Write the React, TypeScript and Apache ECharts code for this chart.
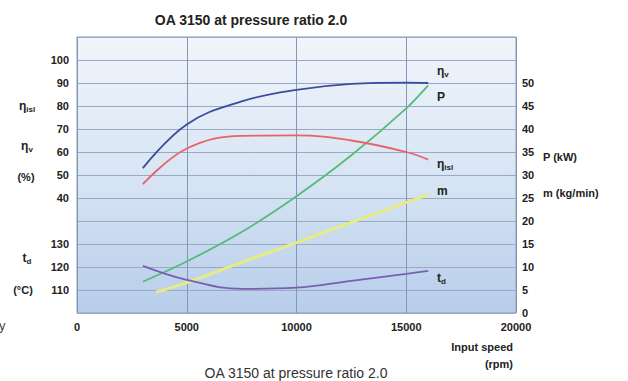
import React, { useEffect, useRef } from "react";
import * as echarts from "echarts";

const TITLE = "OA 3150 at pressure ratio 2.0";
const speed = [3000, 5000, 7500, 10000, 12500, 15000, 16000];
const etaV = [53, 72, 82, 87, 89.6, 90.2, 90];
const etaIsl = [46, 61.5, 67, 67.2, 65, 60, 56.7];
const power = [6.8, 11.2, 17.6, 25.4, 34.3, 44.5, 49.5];
const massSpeed = [3600, 5000, 7500, 10000, 12500, 15000, 16000];
const massFlow = [4.5, 6.6, 11, 15.3, 19.7, 24, 25.7];
const tempD = [120.5, 114.4, 110.5, 111, 114, 117, 118.3];
const etaTicks = [40, 50, 60, 70, 80, 90, 100];
const tempTicks = [110, 120, 130];
const rightTicks = [0, 5, 10, 15, 20, 25, 30, 35, 40, 45, 50];

const FONT = "Liberation Sans, Arial, sans-serif";

const pairs = (xs: number[], ys: number[]) => xs.map((x, i) => [x, ys[i]]);

const tickLabel = {
  fontFamily: FONT,
  fontWeight: "bold" as const,
  fontSize: 11,
  color: "#222",
};

const sub = (main: string, s: string) => `{e|${main}}{s|${s}}`;
const richSub = {
  e: { fontFamily: FONT, fontSize: 12, fontWeight: "bold", fill: "#222", lineHeight: 14, verticalAlign: "middle" },
  s: { fontFamily: FONT, fontSize: 8, fontWeight: "bold", fill: "#222", lineHeight: 8, verticalAlign: "bottom" },
};

function txt(text: string, x: number, y: number, align: string, extra: any = {}) {
  return {
    type: "text",
    x,
    y,
    style: {
      text,
      fontFamily: FONT,
      fontSize: 11,
      fontWeight: "bold",
      fill: "#222",
      align,
      verticalAlign: "middle",
      rich: richSub,
      ...extra,
    },
  };
}

export default function App() {
  const ref = useRef<HTMLDivElement>(null);
  useEffect(() => {
    if (!ref.current) return;
    const chart = echarts.init(ref.current, null, { renderer: "svg" });
    chart.setOption({
      animation: false,
      backgroundColor: "#fff",
      title: {
        text: TITLE,
        left: 246,
        textAlign: "center",
        top: 8,
        textStyle: { fontFamily: FONT, fontSize: 14, fontWeight: "bold", color: "#222" },
      },
      grid: {
        left: 77,
        right: 112,
        top: 37,
        bottom: 68,
        show: true,
        borderColor: "#8f9bb0",
        borderWidth: 1,
        backgroundColor: new echarts.graphic.LinearGradient(0, 0, 0, 1, [
          { offset: 0, color: "#f1f5fb" },
          { offset: 0.5, color: "#d8e5f4" },
          { offset: 1, color: "#b7cdea" },
        ]),
      },
      xAxis: {
        type: "value",
        min: 0,
        max: 20000,
        interval: 5000,
        axisLine: { show: false },
        axisTick: { show: false },
        axisLabel: { ...tickLabel, margin: 8, formatter: (v: number) => String(v) },
        splitLine: { show: true, lineStyle: { color: "#8596b8", width: 1 } },
      },
      yAxis: [
        {
          type: "value",
          position: "right",
          min: 0,
          max: 60,
          interval: 5,
          axisLine: { show: false },
          axisTick: { show: false },
          axisLabel: {
            ...tickLabel,
            margin: 6,
            formatter: (v: number) => (rightTicks.includes(v) ? String(v) : ""),
          },
          splitLine: { show: true, lineStyle: { color: "#9aa9c2", width: 1 } },
        },
        {
          type: "value",
          position: "left",
          min: -10,
          max: 110,
          interval: 10,
          axisLine: { show: false },
          axisTick: { show: false },
          axisLabel: {
            ...tickLabel,
            margin: 8,
            formatter: (v: number) => (etaTicks.includes(v) ? String(v) : ""),
          },
          splitLine: { show: false },
        },
        {
          type: "value",
          position: "left",
          offset: 0,
          min: 100,
          max: 220,
          interval: 10,
          axisLine: { show: false },
          axisTick: { show: false },
          axisLabel: {
            ...tickLabel,
            margin: 8,
            formatter: (v: number) => (tempTicks.includes(v) ? String(v) : ""),
          },
          splitLine: { show: false },
        },
      ],
      series: [
        {
          name: "m",
          type: "line",
          yAxisIndex: 0,
          data: pairs(massSpeed, massFlow),
          smooth: 0.3,
          symbol: "none",
          lineStyle: { color: "#e6ec84", width: 3 },
        },
        {
          name: "P",
          type: "line",
          yAxisIndex: 0,
          data: pairs(speed, power),
          smooth: 0.3,
          symbol: "none",
          lineStyle: { color: "#55bb78", width: 1.8 },
        },
        {
          name: "eta_isl",
          type: "line",
          yAxisIndex: 1,
          data: pairs(speed, etaIsl),
          smooth: 0.4,
          symbol: "none",
          lineStyle: { color: "#e8626a", width: 1.8 },
        },
        {
          name: "eta_v",
          type: "line",
          yAxisIndex: 1,
          data: pairs(speed, etaV),
          smooth: 0.4,
          symbol: "none",
          lineStyle: { color: "#3b4c9e", width: 1.8 },
        },
        {
          name: "t_d",
          type: "line",
          yAxisIndex: 2,
          data: pairs(speed, tempD),
          smooth: 0.4,
          symbol: "none",
          lineStyle: { color: "#7a5fb0", width: 1.8 },
        },
      ],
      graphic: [
        txt(sub("η", "v"), 437, 71, "left"),
        txt("P", 437, 97, "left", { fontSize: 12 }),
        txt(sub("η", "isl"), 437, 164, "left"),
        txt("m", 437, 191, "left", { fontSize: 12 }),
        txt(sub("t", "d"), 437, 278, "left"),
        txt(sub("η", "isl"), 27, 106, "center"),
        txt(sub("η", "v"), 27, 146, "center"),
        txt("(%)", 26, 177, "center"),
        txt(sub("t", "d"), 27, 258, "center"),
        txt("(°C)", 23, 290, "center"),
        txt("P (kW)", 543, 157, "left"),
        txt("m (kg/min)", 543, 193, "left"),
        txt("Input speed", 513, 347, "right"),
        txt("(rpm)", 513, 364, "right"),
        txt("y", -1, 325, "left", { fontWeight: "normal", fontSize: 13, fill: "#444" }),
        {
          type: "text",
          x: 296,
          y: 366,
          style: {
            text: TITLE,
            fontFamily: FONT,
            fontSize: 14,
            fill: "#333",
            align: "center",
            verticalAlign: "top",
          },
        },
      ],
    });
    return () => chart.dispose();
  }, []);
  return (
    <div
      ref={ref}
      style={{ position: "fixed", left: 0, top: 0, width: 628, height: 381 }}
    />
  );
}
